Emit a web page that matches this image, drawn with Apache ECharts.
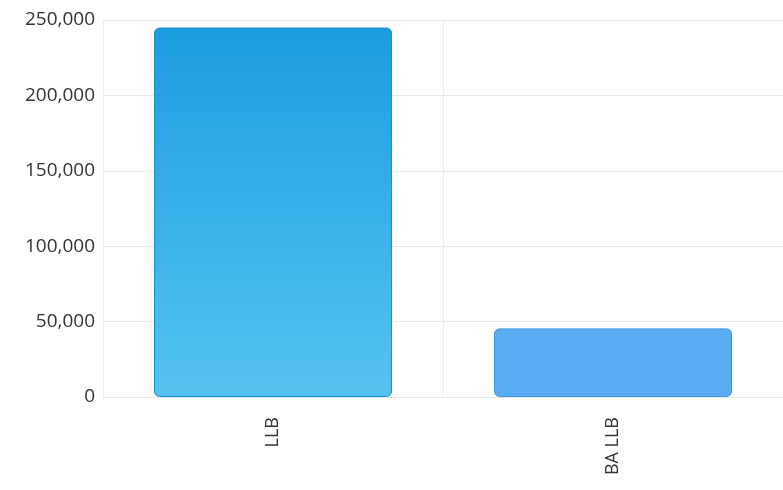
<!DOCTYPE html>
<html><head><meta charset="utf-8">
<script src="https://cdn.jsdelivr.net/npm/echarts@6/dist/echarts.min.js"></script>
<style>html,body{margin:0;padding:0;background:#fff}#c{width:783px;height:490px}</style>
</head><body><div id="c"></div>
<script>
const categories = ['LLB', 'BA LLB'];
const values = [245000, 45500];
const yTicks = [0, 50000, 100000, 150000, 200000, 250000];

const chart = echarts.init(document.getElementById('c'));
chart.setOption({
  animation: false,
  backgroundColor: '#fff',
  grid: { left: 103, right: -4, top: 20, bottom: 93 },
  xAxis: {
    type: 'category',
    data: categories,
    axisLine: { show: true, lineStyle: { color: '#e6e6e6' } },
    axisTick: { show: false },
    splitLine: { show: true, lineStyle: { color: '#ececec' } },
    axisLabel: { rotate: 90, color: '#333', fontSize: 18, fontFamily: 'Open Sans', margin: 20, padding: [0, 0, 28, 0] }
  },
  yAxis: {
    type: 'value',
    min: yTicks[0], max: yTicks[yTicks.length - 1], interval: 50000,
    axisLine: { show: false }, axisTick: { show: false },
    splitLine: { lineStyle: { color: '#e8e8e8' } },
    axisLabel: {
      color: '#333', fontSize: 19, fontFamily: 'Open Sans', margin: 8,
      formatter: v => v.toLocaleString('en-US')
    }
  },
  series: [{
    type: 'bar',
    barWidth: '70%',
    data: values.map((v, i) => ({
      value: v,
      itemStyle: i === 0 ? {
        color: new echarts.graphic.LinearGradient(0, 0, 0, 1, [
          { offset: 0, color: '#1d9ce2' }, { offset: 1, color: '#55c3f0' }
        ]),
        borderColor: '#1a8fd0', borderWidth: 1, borderRadius: 5
      } : {
        color: '#58acf1', borderColor: '#3f97e0', borderWidth: 1, borderRadius: 5
      }
    }))
  }]
});
</script></body></html>
